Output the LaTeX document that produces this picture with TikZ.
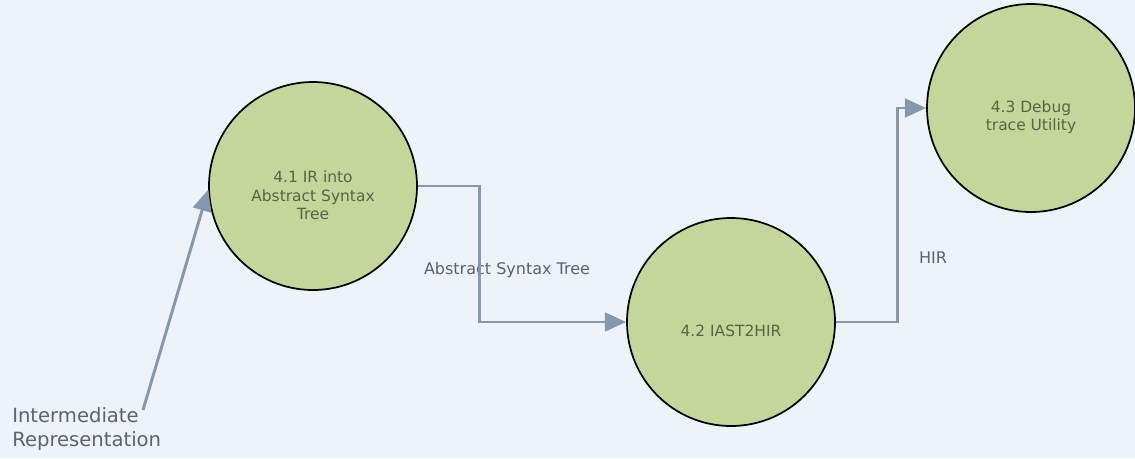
\documentclass[tikz,border=0pt]{standalone}
\usepackage{fontspec}
\setmainfont{DejaVu Sans}
\usetikzlibrary{arrows.meta}

\definecolor{bgblue}{HTML}{EEF2F9}
\definecolor{procgreen}{HTML}{C5D69B}
\definecolor{flowgray}{HTML}{8797AD}
\definecolor{textolive}{HTML}{5B6346}
\definecolor{labelgray}{HTML}{5E6269}

\tikzset{
  proctext/.style={align=center, text=textolive, inner sep=0pt,
    font=\fontsize{11.6}{14}\selectfont, yshift=-7pt},
  process/.style={circle, draw=black, line width=1.3pt, fill=procgreen,
    minimum size=156pt, inner sep=0pt,
    label={[proctext]center:{#1}}},
  flow/.style={draw=flowgray, line width=2.2pt,
    -{Triangle[length=16pt,width=14pt]}},
  flowlabel/.style={text=labelgray, font=\fontsize{12}{14}\selectfont, inner sep=0pt}
}

\begin{document}
\begin{tikzpicture}[x=0.75pt,y=-0.75pt]
\fill[bgblue] (0,0) rectangle (1135,458);
\useasboundingbox (0,0) rectangle (1135,458);
%draw [help lines] grid (1135,458);
\node[process={4.1 IR into\\Abstract Syntax\\Tree}] (P1) at (313,186) {};
\node[process={4.2 IAST2HIR}] (P2) at (731,322) {};
\node[process={4.3 Debug\\trace Utility}] (P3) at (1031,108) {};

\node[flowlabel, anchor=north west, align=left, font=\fontsize{14.7}{18.5}\selectfont]
  (IR) at (12,407) {Intermediate\\Representation};
\coordinate (IRtop) at (143,410);
\node[flowlabel] (AST) at (507,270) {Abstract Syntax Tree};
\node[flowlabel] (HIR) at (933,258) {HIR};

\draw[flow] (IRtop) -- (P1.182);
\draw[flow] (P1.east) -- ++(62,0) |- (P2.west);
\draw[flow] (P2.east) -- ++(62,0) |- (P3.west);

\end{tikzpicture}
\end{document}
